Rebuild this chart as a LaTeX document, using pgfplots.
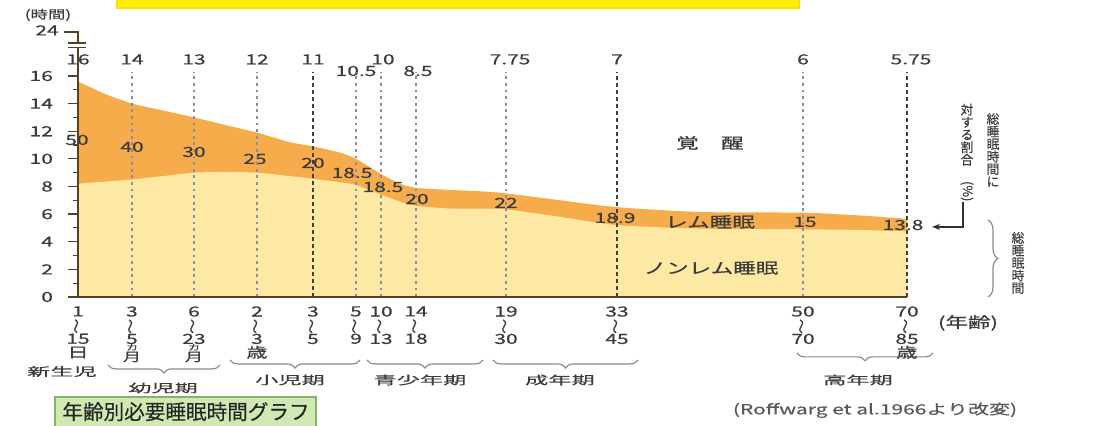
\documentclass[border=0pt]{standalone}
\usepackage{fontspec}
\usepackage{pgfplots}
\pgfplotsset{compat=1.18}
\usetikzlibrary{decorations.pathreplacing,arrows.meta}
\setmainfont[FakeStretch=1.5, FakeBold=0.6]{Noto Sans CJK JP}
\newfontfamily\vf[FakeBold=0.4]{Noto Sans CJK JP}
\newfontfamily\wf[FakeStretch=2, FakeBold=0.4]{Noto Sans CJK JP}
\newfontfamily\tf[FakeStretch=1.0, FakeBold=0.4]{Noto Sans CJK JP}

\definecolor{remc}{RGB}{246,172,74}
\definecolor{nremc}{RGB}{254,233,164}
\definecolor{gridc}{RGB}{140,140,162}
\definecolor{axc}{RGB}{85,65,40}
\definecolor{txt}{RGB}{60,60,60}
\definecolor{boxg}{RGB}{208,232,178}
\definecolor{boxgd}{RGB}{130,180,100}

% vertical wave dash between ages
\newcommand{\wv}{\smash{\rotatebox[origin=c]{90}{\vf\fontsize{7.5}{7.5}\selectfont 〜}}}
% small "ka" stacked over "month"
\newcommand{\kg}{\raisebox{-1.8pt}[3.5pt][1pt]{\shortstack{{\fontsize{4}{4}\selectfont カ}\\[-2.4pt]{\fontsize{6}{6}\selectfont 月}}}}

\pgfplotstableread{
x    total nrem
78   15.6  8.2
105  14.7  8.35
132  14.0  8.5
163  13.5  8.75
194  13.0  9.0
225  12.45 9.05
257  11.9  9.0
290  11.2  8.75
313  10.9  8.55
340  10.45 8.3
356  10.0  8.1
381  8.9   7.4
400  8.2   6.9
416  7.9   6.6
450  7.75  6.4
480  7.65  6.4
506  7.5   6.35
560  7.0   5.8
617  6.5   5.2
700  6.15  4.95
803  6.1   4.9
860  5.9   4.85
907  5.65  4.75
}\sleep

\begin{document}
\begin{tikzpicture}
\begin{axis}[
  scale only axis, width=414.5pt, height=112.5pt,
  xmin=78, xmax=907, ymin=0, ymax=16.29,
  clip=false, axis on top,
  axis x line=bottom, axis y line=left,
  x axis line style={-, line width=0.8pt, color=axc},
  y axis line style={-, line width=1.3pt, color=axc},
  tick align=outside,
  ytick={0,2,...,16}, minor y tick num=1,
  major tick length=5pt, minor tick length=2.5pt,
  ytick style={color=axc, line width=0.6pt},
  yticklabel style={font=\fontsize{7}{7}\selectfont, text=txt, xshift=-4pt},
  /pgf/number format/assume math mode=true,
  xtick={78,132,194,257,356,381,416,506,803},
  xticklabels={{1\\\wv\\15\\日},{3\\\wv\\5\\\kg},{6\\\wv\\23\\\kg},{2\\\wv\\3\\歳},{5\\\wv\\9},{10\\\wv\\13},{14\\\wv\\18},{19\\\wv\\30},{50\\\wv\\70}},
  extra x ticks={313,617,907},
  extra x tick labels={{3\\\wv\\5},{33\\\wv\\45},{70\\\wv\\85\\歳}},
  xtick style={draw=none},
  xticklabel style={font=\fontsize{7}{6.85}\selectfont, text=txt, align=center, anchor=north, inner sep=0pt, yshift=0.5pt},
  xmajorgrids,
  grid style={gridc, line width=1.2pt, dash pattern=on 1.4pt off 1.9pt},
  extra x tick style={grid style={black!75, line width=0.6pt, dash pattern=on 2pt off 1.5pt}, xtick style={draw=none}},
]
\addplot[draw=none, fill=remc, smooth, tension=0.4] table[x=x, y=total] {\sleep} \closedcycle;
\addplot[draw=none, fill=nremc, smooth, tension=0.4] table[x=x, y=nrem] {\sleep} \closedcycle;

% axis break and the 24 h mark
\draw[axc, line width=1.3pt] (axis cs:78,16.29) -- (axis cs:78,18.06);
\draw[axc, line width=0.8pt] (axis cs:68,18.06) -- (axis cs:86,18.06)
  (axis cs:68,18.37) -- (axis cs:86,18.37);
\draw[axc, line width=1.0pt] (axis cs:78,18.37) -- (axis cs:78,19.19) -- (axis cs:64,19.19);
\node[font=\fontsize{7}{7}\selectfont, text=txt] at (axis cs:47,19.3) {24};
\node[font=\fontsize{5.8}{6}\selectfont, text=txt] at (axis cs:48,20.42) {(時間)};

% hours at the top of each age line
\begin{scope}[every node/.style={font=\fontsize{7}{7}\selectfont, text=txt, inner sep=0pt}]
\node at (axis cs:78,17.2) {16};
\node at (axis cs:132,17.2) {14};
\node at (axis cs:194,17.2) {13};
\node at (axis cs:257,17.2) {12};
\node at (axis cs:313,17.2) {11};
\node at (axis cs:383,17.2) {10};
\node at (axis cs:356,16.36) {10.5};
\node at (axis cs:418,16.36) {8.5};
\node at (axis cs:510,17.2) {7.75};
\node at (axis cs:617,17.2) {7};
\node at (axis cs:803,17.2) {6};
\node at (axis cs:911,17.2) {5.75};
% REM share (%)
\node at (axis cs:77,11.37) {50};
\node at (axis cs:132,10.86) {40};
\node at (axis cs:194,10.5) {30};
\node at (axis cs:255,9.99) {25};
\node at (axis cs:313,9.7) {20};
\node at (axis cs:352,8.98) {18.5};
\node at (axis cs:383,7.96) {18.5};
\node at (axis cs:417,7.09) {20};
\node at (axis cs:506,6.81) {22};
\node at (axis cs:615,5.72) {18.9};
\node at (axis cs:805,5.43) {15};
\node at (axis cs:903,5.21) {13.8};
\end{scope}

\begin{scope}[every node/.style={font=\fontsize{7.5}{7.5}\selectfont, text=txt, inner sep=0pt}]
\node at (axis cs:710,11.15) {覚　醒};
\node at (axis cs:710,5.43) {レム睡眠};
\node at (axis cs:711,2.1) {ノンレム睡眠};
\node at (axis cs:968,-1.88) {(年齢)};
\node[font=\fontsize{7}{7}\selectfont, text=black!65] at (axis cs:875,-8.2) {(Roffwarg et al.1966より改変)};
\end{scope}

% right-hand notes
\begin{scope}[every node/.style={font=\vf\fontsize{6.4}{6.25}\selectfont, text=txt, align=center, inner sep=0pt}]
\node at (axis cs:993,10.64) {総\\睡\\眠\\時\\間\\に};
\node at (axis cs:967,10.45) {対\\す\\る\\割\\合\\[2pt]\rotatebox{-90}{(\%)}};
\node at (axis cs:1018,2.46) {総\\睡\\眠\\時\\間};
\end{scope}
\draw[black!80, line width=0.9pt, -{Stealth[length=4pt]}] (axis cs:963,6.88) -- (axis cs:963,5.07) -- (axis cs:932,5.07);
\draw[black!45, line width=0.6pt, decorate, decoration={brace, amplitude=5pt}] (axis cs:988,5.57) -- (axis cs:988,0);

% life stages
\begin{scope}[every node/.style={font=\wf\fontsize{5.8}{6}\selectfont, text=txt, inner sep=0pt}]
\node at (axis cs:62,-5.4) {新生児};
\node at (axis cs:163,-6.59) {幼児期};
\node at (axis cs:290,-6.01) {小児期};
\node at (axis cs:420,-6.01) {青少年期};
\node at (axis cs:560,-6.01) {成年期};
\node at (axis cs:858,-6.01) {高年期};
\end{scope}
\begin{scope}[black!45, line width=0.6pt, decoration={brace, mirror, amplitude=4pt}]
\draw[decorate] (axis cs:108,-4.92) -- (axis cs:220,-4.92);
\draw[decorate] (axis cs:230,-4.56) -- (axis cs:360,-4.56);
\draw[decorate] (axis cs:367,-4.56) -- (axis cs:483,-4.56);
\draw[decorate] (axis cs:493,-4.56) -- (axis cs:638,-4.56);
\draw[decorate] (axis cs:797,-4.05) -- (axis cs:933,-4.05);
\end{scope}

% title boxes
\draw[boxgd, fill=boxg, line width=0.8pt] (axis cs:55,-7.24) rectangle (axis cs:316,-10);
\node[font=\tf\fontsize{10.3}{10.3}\selectfont, text=black!85, inner sep=0pt] at (axis cs:186,-8.3) {年齢別必要睡眠時間グラフ};
\draw[yellow!80!orange, fill=yellow, line width=0.6pt] (axis cs:117,21.9) rectangle (axis cs:799,20.92);

\coordinate (BL) at (axis cs:0,-9.34);
\coordinate (TR) at (axis cs:1094,21.5);
\end{axis}
\pgfresetboundingbox
\path (BL) rectangle (TR);
\end{tikzpicture}
\end{document}
